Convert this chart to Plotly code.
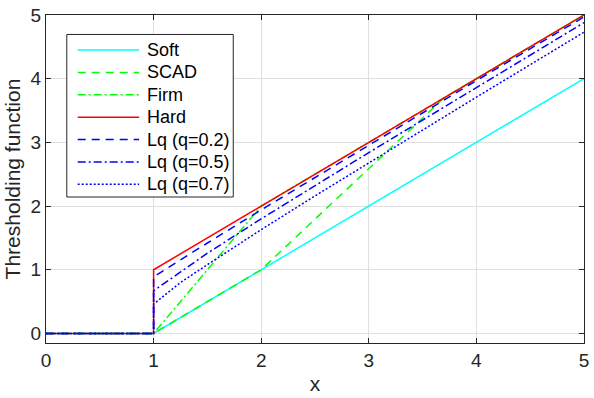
import plotly.graph_objects as go

# values (threshold = 1)
soft_x = [0, 1, 5]
soft_y = [0, 0, 4]

scad_x = [0, 1, 2, 3.7, 5]
scad_y = [0, 0, 1, 3.7, 5]

firm_x = [0, 1, 2, 5]
firm_y = [0, 0, 2, 5]

hard_x = [0, 1, 1, 5]
hard_y = [0, 0, 1, 5]

lq_x = [0, 1, 1, 1.25, 1.5, 2, 2.5, 3, 4, 5]
lq02_y = [0, 0, 0.89, 1.16, 1.42, 1.94, 2.45, 2.96, 3.97, 4.97]
lq05_y = [0, 0, 0.67, 0.97, 1.26, 1.80, 2.32, 2.84, 3.86, 4.88]
lq07_y = [0, 0, 0.46, 0.80, 1.08, 1.63, 2.16, 2.68, 3.71, 4.73]

x_ticks = [0, 1, 2, 3, 4, 5]
y_ticks = [0, 1, 2, 3, 4, 5]

series = [
    ("Soft", soft_x, soft_y, "#00FFFF", "solid"),
    ("SCAD", scad_x, scad_y, "#00FF00", "8px,6px"),
    ("Firm", firm_x, firm_y, "#00FF00", "8px,3px,2px,3px"),
    ("Hard", hard_x, hard_y, "#FF0000", "solid"),
    ("Lq (q=0.2)", lq_x, lq02_y, "#0000FF", "8px,6px"),
    ("Lq (q=0.5)", lq_x, lq05_y, "#0000FF", "8px,3px,2px,3px"),
    ("Lq (q=0.7)", lq_x, lq07_y, "#0000FF", "2px,2px"),
]

W, H = 594, 398
ML, MR, MT, MB = 46, 5, 6, 55
PW, PH = W - ML - MR, H - MT - MB


def px(X):
    return (X - ML) / PW


def py(Y):
    return (H - MB - Y) / PH


fig = go.Figure()
for name, xs, ys, color, dash in series:
    fig.add_trace(
        go.Scatter(
            x=xs,
            y=ys,
            mode="lines",
            name=name,
            showlegend=False,
            line=dict(color=color, width=1.5, dash=dash),
        )
    )

# hand-made legend box (MATLAB style, long line samples)
shapes = [
    dict(
        type="rect", xref="paper", yref="paper",
        x0=px(67), x1=px(235), y0=py(193), y1=py(26),
        line=dict(color="#262626", width=1), fillcolor="white", layer="above",
    )
]
annotations = []
for i, (name, xs, ys, color, dash) in enumerate(series):
    row_y = 42 + 23 * i
    shapes.append(
        dict(
            type="line", xref="paper", yref="paper",
            x0=px(78), x1=px(140), y0=py(row_y), y1=py(row_y),
            line=dict(color=color, width=1.5, dash=dash), layer="above",
        )
    )
    annotations.append(
        dict(
            text=name, xref="paper", yref="paper",
            x=px(146), y=py(row_y), xanchor="left", yanchor="middle",
            showarrow=False, font=dict(size=18, color="#000000"),
        )
    )

axis_style = dict(
    showline=True,
    linecolor="#262626",
    linewidth=1,
    mirror="ticks",
    ticks="inside",
    ticklen=5,
    tickcolor="#262626",
    showgrid=True,
    gridcolor="#dfdfdf",
    gridwidth=1,
    zeroline=False,
    ticklabeloverflow="allow",
    tickfont=dict(size=19, color="#262626"),
)

fig.update_xaxes(
    range=[0, 5],
    tickvals=x_ticks,
    title=dict(text="x", font=dict(size=21, color="#262626"), standoff=6),
    **axis_style,
)
fig.update_yaxes(
    range=[-0.15, 5],
    tickvals=y_ticks,
    title=dict(text="Thresholding function", font=dict(size=21, color="#262626"), standoff=4),
    **axis_style,
)

fig.update_layout(
    width=W,
    height=H,
    margin=dict(l=ML, r=MR, t=MT, b=MB),
    paper_bgcolor="white",
    plot_bgcolor="white",
    font=dict(family="Liberation Sans, Arial, sans-serif", color="#262626"),
    showlegend=False,
    shapes=shapes,
    annotations=annotations,
)

fig.write_html(
    "out.html",
    config={"displayModeBar": False},
    post_script="document.body.style.margin='0';",
)
